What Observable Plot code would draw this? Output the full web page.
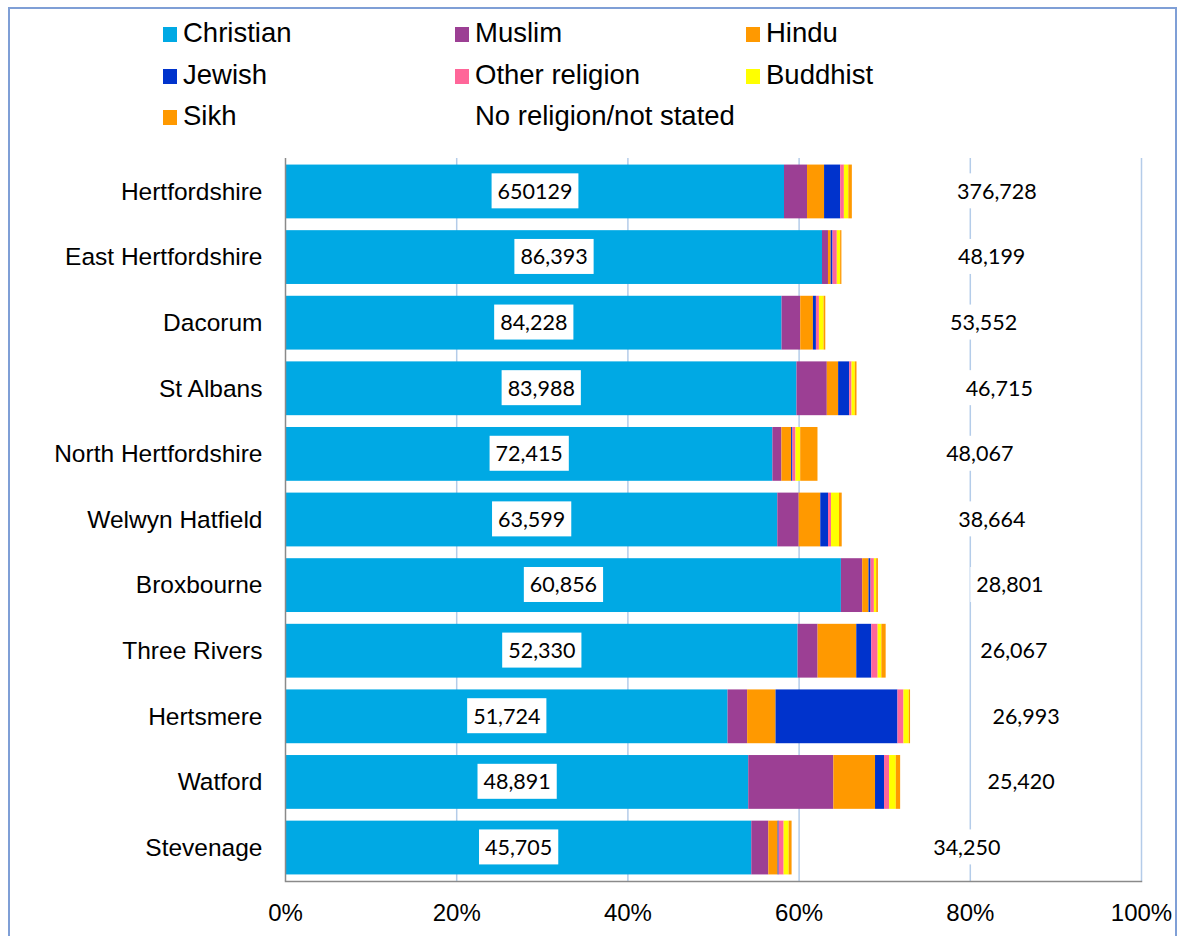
<!DOCTYPE html>
<html>
<head>
<meta charset="utf-8">
<script src="https://cdn.jsdelivr.net/npm/d3@7"></script>
<script src="https://cdn.jsdelivr.net/npm/@observablehq/plot@0.6"></script>
<style>
  html, body { margin: 0; padding: 0; background: #fff; overflow: hidden; }
  #wrap { position: relative; width: 1178px; height: 936px; font-family: 'Liberation Sans', Arial, sans-serif; }
  #border { position: absolute; left: 8px; top: 7px; width: 1165px; height: 960px; border: 2px solid #7f9fd6; pointer-events: none; }
  #legend { position: relative; width: 1178px; height: 140px; }
  .li { position: absolute; font-size: 27.5px; color: #000; white-space: nowrap; line-height: 1; }
  .sw { position: absolute; width: 14px; height: 15px; }
  #chart { display: block; }
</style>
</head>
<body>
<div id="wrap">
  <div id="legend"></div>
  <div id="chart"></div>
  <div id="border"></div>
</div>
<script>
const areas = ["Hertfordshire", "East Hertfordshire", "Dacorum", "St Albans", "North Hertfordshire",
  "Welwyn Hatfield", "Broxbourne", "Three Rivers", "Hertsmere", "Watford", "Stevenage"];
const religions = ["Christian", "Muslim", "Hindu", "Jewish", "Other religion", "Buddhist", "Sikh", "No religion/not stated"];
const colors = ["#00a9e4", "#9c3f94", "#ff9900", "#0033cc", "#ff6699", "#ffff00", "#ff9900", "none"];

const christian = [650129, 86393, 84228, 83988, 72415, 63599, 60856, 52330, 51724, 48891, 45705];
const muslim = [30000, 960, 3170, 4980, 1340, 2760, 2330, 2040, 2290, 8980, 1670];
const hindu = [22200, 430, 2150, 1860, 1440, 2790, 690, 3950, 3320, 4400, 910];
const jewish = [21000, 300, 510, 1810, 200, 1000, 220, 1530, 14250, 950, 100];
const otherReligion = [4800, 690, 510, 390, 450, 390, 370, 650, 700, 530, 490];
const buddhist = [5800, 530, 790, 540, 700, 1030, 250, 380, 620, 710, 490];
const sikh = [4600, 210, 290, 280, 2570, 350, 190, 440, 150, 460, 290];
const noReligion = [376728, 48199, 53552, 46715, 48067, 38664, 28801, 26067, 26993, 25420, 34250];

const xTicks = [0, 0.2, 0.4, 0.6, 0.8, 1];
const gridTicks = [0.2, 0.4, 0.6, 0.8, 1];
const labelled = ["Christian", "No religion/not stated"];

const series = [christian, muslim, hindu, jewish, otherReligion, buddhist, sikh, noReligion];
const data = areas.flatMap((area, i) => religions.map((religion, j) => ({area, religion, value: series[j][i]})));

const fmt = d3.format(",");
const labelText = d => {
  if (!labelled.includes(d.religion)) return null;
  if (d.area === "Hertfordshire" && d.religion === "Christian") return String(d.value);
  return fmt(d.value);
};

// Legend
const legend = document.getElementById("legend");
const colX = [163, 455, 746];
const rowY = [34, 76, 117];
religions.forEach((r, i) => {
  const c = i % 3, row = Math.floor(i / 3);
  if (colors[i] !== "none") {
    const sw = document.createElement("div");
    sw.className = "sw";
    sw.style.left = colX[c] + "px";
    sw.style.top = (rowY[row] - 7) + "px";
    sw.style.background = colors[i];
    legend.appendChild(sw);
  }
  const t = document.createElement("div");
  t.className = "li";
  t.textContent = r;
  t.style.left = (colX[c] + 20) + "px";
  t.style.top = (rowY[row] - 15) + "px";
  legend.appendChild(t);
});

const chart = Plot.plot({
  width: 1178,
  height: 796,
  marginTop: 18,
  marginBottom: 55,
  marginLeft: 285,
  marginRight: 37,
  style: {fontFamily: "'Liberation Sans', Arial, sans-serif", fontSize: "24px", color: "#000", background: "transparent"},
  x: {domain: [0, 1]},
  y: {domain: areas, paddingInner: 0.18, paddingOuter: 0.1, round: false},
  color: {domain: religions, range: colors},
  marks: [
    Plot.ruleX(gridTicks, {stroke: "#b4cce9", strokeWidth: 1.5}),
    Plot.barX(data, Plot.stackX({offset: "normalize", x: "value", y: "area", fill: "religion", order: religions})),
    Plot.ruleX([0], {stroke: "#8a8a8a", strokeWidth: 1.5}),
    Plot.frame({anchor: "bottom", stroke: "#8a8a8a", strokeWidth: 1.5}),
    Plot.textX(data, Plot.stackX({
      offset: "normalize", x: "value", y: "area", z: "religion", order: religions,
      text: labelText, fontFamily: "Lato, 'Open Sans', sans-serif", fontSize: 21.5, fill: "#000",
      className: "value-labels"
    })),
    Plot.axisX({ticks: xTicks, tickFormat: d3.format(".0%"), tickSize: 0, tickPadding: 22, fontSize: 24, label: null}),
    Plot.axisY({tickSize: 0, tickPadding: 23, fontSize: 24.5, label: null})
  ]
});

document.getElementById("chart").appendChild(chart);

// White boxes behind value labels
const ns = "http://www.w3.org/2000/svg";
let labelTexts = chart.querySelectorAll('.value-labels text');
if (!labelTexts.length) labelTexts = chart.querySelectorAll('g[aria-label="text"] text');
labelTexts.forEach(t => {
  const b = t.getBBox();
  const r = document.createElementNS(ns, "rect");
  r.setAttribute("x", b.x - 6);
  r.setAttribute("y", b.y + b.height / 2 - 17.5);
  r.setAttribute("width", b.width + 12);
  r.setAttribute("height", 35);
  r.setAttribute("fill", "white");
  r.setAttribute("stroke", "none");
  if (t.getAttribute("transform")) r.setAttribute("transform", t.getAttribute("transform"));
  t.parentNode.insertBefore(r, t);
});
</script>
</body>
</html>
